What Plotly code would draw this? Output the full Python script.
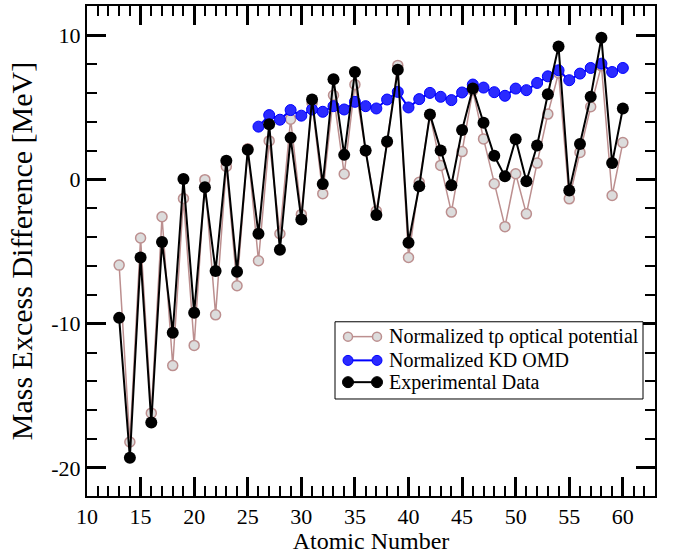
import plotly.graph_objects as go

z_all = list(range(13, 61))
z_kd = list(range(26, 61))

tp_values = [-5.93, -18.2, -4.05, -16.2, -2.57, -12.9, -1.31, -11.5, 0.0, -9.38,
             0.92, -7.36, 2.14, -5.63, 2.69, -3.75, 4.2, -2.41, 5.3, -0.97,
             5.86, 0.39, 6.6, 2.0, -2.18, 2.6, 7.93, -5.4, -0.18, 4.5,
             0.99, -2.25, 1.95, 6.2, 2.83, -0.28, -3.26, 0.41, -2.37, 1.15,
             4.55, 7.4, -1.33, 1.89, 5.06, 7.9, -1.1, 2.57]

kd_values = [3.68, 4.48, 4.16, 4.83, 4.44, 4.87, 4.71, 5.1, 4.87, 5.4,
             5.1, 4.94, 5.56, 6.09, 5.01, 5.59, 6.02, 5.75, 5.52, 6.05,
             6.6, 6.39, 6.07, 5.82, 6.32, 6.21, 6.71, 7.17, 7.59, 6.9,
             7.36, 7.75, 8.05, 7.47, 7.75]

exp_values = [-9.59, -19.3, -5.4, -16.85, -4.32, -10.62, 0.05, -9.24, -0.53, -6.34,
              1.31, -6.39, 2.07, -3.75, 3.84, -4.87, 2.9, -2.76, 5.56, -0.3,
              6.97, 1.72, 7.47, 2.02, -2.46, 2.64, 7.63, -4.37, -0.46, 4.53,
              2.02, -0.39, 3.45, 6.32, 3.95, 1.66, 0.23, 2.8, -0.11, 2.37,
              5.93, 9.24, -0.76, 2.48, 5.75, 9.84, 1.15, 4.94]

series_names = ["Normalized t\u03c1 optical potential", "Normalized KD OMD", "Experimental Data"]

x_ticks = [10, 15, 20, 25, 30, 35, 40, 45, 50, 55, 60]
y_ticks = [-20, -10, 0, 10]

FONT = "Liberation Serif, Times New Roman, serif"

styles = [
    dict(line=dict(color="#bc8f8f", width=1.5),
         marker=dict(symbol="circle", size=10, color="#dcdcdc",
                     line=dict(color="#bc8f8f", width=1.5))),
    dict(line=dict(color="#0000ff", width=2),
         marker=dict(symbol="circle", size=11, color="#2a2aff",
                     line=dict(color="#0000ff", width=1))),
    dict(line=dict(color="black", width=2),
         marker=dict(symbol="circle", size=12, color="black")),
]

fig = go.Figure()
for xs, ys, name, st in zip([z_all, z_kd, z_all], [tp_values, kd_values, exp_values],
                            series_names, styles):
    fig.add_trace(go.Scatter(x=xs, y=ys, mode="lines+markers", name=name,
                             showlegend=False, **st))

axis_common = dict(
    showline=True, linecolor="black", linewidth=2, mirror="allticks",
    ticks="inside", ticklen=19, tickwidth=2.5, tickcolor="black",
    showgrid=False, zeroline=False,
    tickfont=dict(family=FONT, size=22, color="black"),
)

fig.update_xaxes(
    range=[10, 63], tickvals=x_ticks, ticktext=[str(v) for v in x_ticks],
    title=dict(text="Atomic Number", font=dict(family=FONT, size=24, color="black"),
               standoff=4),
    minor=dict(dtick=1, ticks="inside", ticklen=10, tickwidth=2, tickcolor="black"),
    **axis_common,
)
fig.update_yaxes(
    range=[-21.95, 12.05], tickvals=y_ticks, ticktext=[str(v) for v in y_ticks],
    title=dict(text="Mass Excess Difference [MeV]",
               font=dict(family=FONT, size=30, color="black"), standoff=10),
    minor=dict(dtick=2, tick0=0, ticks="inside", ticklen=10, tickwidth=2, tickcolor="black"),
    **axis_common,
)

# Legend drawn as a box with sample symbols and text (pixel positions -> paper)
L, R, T, B = 87, 655, 4, 499
def px(xp):
    return (xp - L) / (R - L)
def py(yp):
    return (B - yp) / (B - T)

shapes = [dict(type="rect", xref="paper", yref="paper",
               x0=px(335), x1=px(643), y0=py(401), y1=py(323),
               line=dict(color="black", width=1), fillcolor="white", layer="above")]
annotations = []
row_y = [338, 362, 384]
for ry, name, st in zip(row_y, series_names, styles):
    shapes.append(dict(type="line", xref="paper", yref="paper",
                       x0=px(348), x1=px(377), y0=py(ry), y1=py(ry),
                       line=dict(color=st["line"]["color"], width=st["line"]["width"]),
                       layer="above"))
    mk = st["marker"]
    r = mk["size"] / 2 - 0.5
    lc = mk.get("line", {}).get("color", mk["color"])
    lw = mk.get("line", {}).get("width", 1)
    for cx in (348, 377):
        shapes.append(dict(type="circle", xref="paper", yref="paper",
                           xsizemode="pixel", ysizemode="pixel",
                           xanchor=px(cx), yanchor=py(ry),
                           x0=-r, x1=r, y0=-r, y1=r,
                           fillcolor=mk["color"], line=dict(color=lc, width=lw),
                           layer="above"))
    annotations.append(dict(text=name, xref="paper", yref="paper",
                            x=px(387), y=py(ry), xanchor="left", yanchor="middle",
                            showarrow=False,
                            font=dict(family=FONT, size=20, color="black")))

fig.update_layout(
    width=676, height=554,
    margin=dict(l=87, r=21, t=4, b=55),
    plot_bgcolor="white", paper_bgcolor="white",
    font=dict(family=FONT, color="black"),
    showlegend=False,
    shapes=shapes, annotations=annotations,
)

fig.write_html("out.html", config={"displayModeBar": False},
               post_script="document.body.style.margin='0';")
